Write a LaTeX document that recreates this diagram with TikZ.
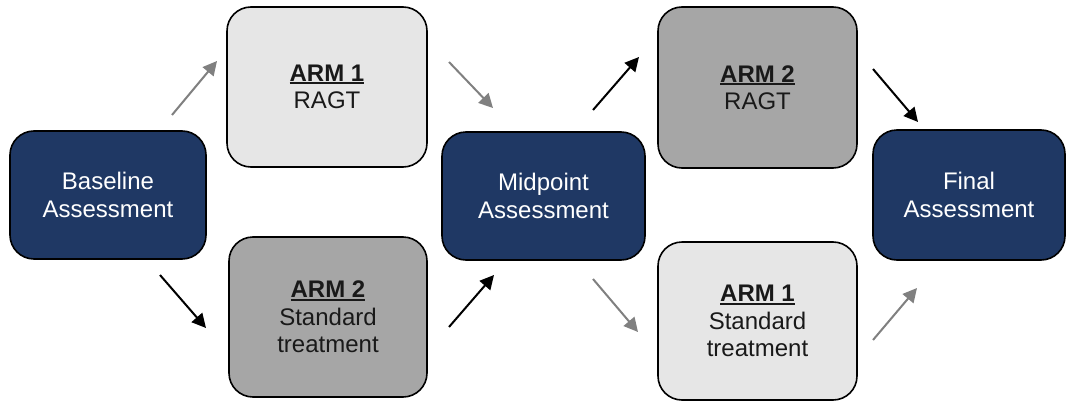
\documentclass[tikz,border=0pt]{standalone}
\usepackage{fontspec}
\setmainfont{Liberation Sans}
\usetikzlibrary{arrows.meta}
\definecolor{navy}{RGB}{31,56,100}
\definecolor{lightbox}{RGB}{230,230,230}
\definecolor{darkbox}{RGB}{166,166,166}
\definecolor{arrowgray}{RGB}{128,128,128}
\newcommand\myul[1]{\setbox0\hbox{#1}\leavevmode\rlap{\rule[-3pt]{\wd0}{2pt}}\box0}
\tikzset{
  box/.style={draw=black, line width=1.6pt, rounded corners=24pt, align=center,
    font=\fontsize{24}{27.5}\selectfont, inner sep=0pt},
  assess/.style={box, fill=navy, text=white},
  armlight/.style={box, fill=lightbox, text=black!90},
  armdark/.style={box, fill=darkbox, text=black!90},
  flowblack/.style={draw=black, line width=2pt, -{Triangle[length=14pt,width=14pt]}},
  flowgray/.style={draw=arrowgray, line width=2pt, -{Triangle[length=14pt,width=14pt]}},
}
\begin{document}
\begin{tikzpicture}[x=1pt,y=-1pt]
\useasboundingbox (0,0) rectangle (1075,404);
\node[assess, minimum width=196pt, minimum height=128pt] (base) at (108,195) {Baseline\\Assessment};
\node[armlight, minimum width=200pt, minimum height=160pt] (a1r) at (327,87) {\myul{\textbf{ARM 1}}\\RAGT};
\node[armdark, minimum width=198pt, minimum height=160pt] (a2s) at (328,317) {\myul{\textbf{ARM 2}}\\Standard\\treatment};
\node[assess, minimum width=203pt, minimum height=128pt] (mid) at (543.5,196) {Midpoint\\Assessment};
\node[armdark, minimum width=199pt, minimum height=161pt] (a2r) at (757.5,87.5) {\myul{\textbf{ARM 2}}\\RAGT};
\node[armlight, minimum width=199pt, minimum height=158pt] (a1s) at (757.5,321) {\myul{\textbf{ARM 1}}\\Standard\\treatment};
\node[assess, minimum width=192pt, minimum height=130pt] (fin) at (969,195) {Final\\Assessment};

\coordinate (p1s) at (172,115); \coordinate (p1e) at (217,61);
\coordinate (p2s) at (449,62);  \coordinate (p2e) at (493,108);
\coordinate (p3s) at (160,275); \coordinate (p3e) at (206,328);
\coordinate (p4s) at (449,327); \coordinate (p4e) at (494,275);
\coordinate (p5s) at (593,110); \coordinate (p5e) at (639,57);
\coordinate (p6s) at (873,69);  \coordinate (p6e) at (918,122);
\coordinate (p7s) at (593,279); \coordinate (p7e) at (638,332);
\coordinate (p8s) at (873,340); \coordinate (p8e) at (917,288);

\draw[flowgray] (p1s) -- (p1e);
\draw[flowgray] (p2s) -- (p2e);
\draw[flowblack] (p3s) -- (p3e);
\draw[flowblack] (p4s) -- (p4e);
\draw[flowblack] (p5s) -- (p5e);
\draw[flowblack] (p6s) -- (p6e);
\draw[flowgray] (p7s) -- (p7e);
\draw[flowgray] (p8s) -- (p8e);
\end{tikzpicture}
\end{document}
